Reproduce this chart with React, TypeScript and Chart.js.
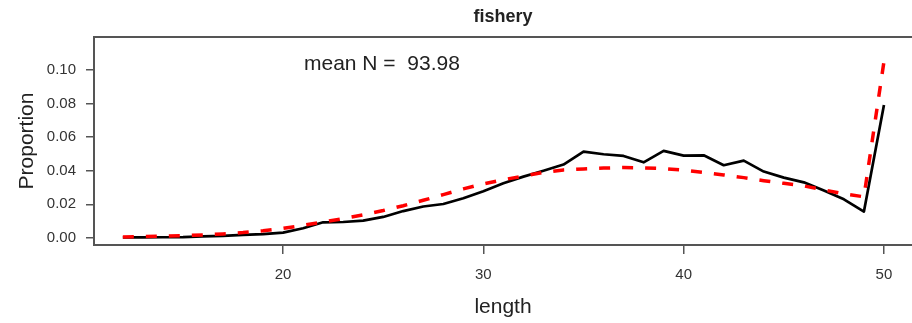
import React, { useEffect, useRef } from "react";
import { Chart, registerables } from "chart.js";

Chart.register(...registerables);

const lengths = [12, 13, 14, 15, 16, 17, 18, 19, 20, 21, 22, 23, 24, 25, 26, 27, 28, 29, 30, 31, 32, 33, 34, 35, 36, 37, 38, 39, 40, 41, 42, 43, 44, 45, 46, 47, 48, 49, 50];

const observed = [0.0003, 0.0003, 0.0004, 0.0005, 0.0009, 0.0012, 0.0018, 0.0023, 0.0032, 0.0058, 0.0093, 0.0095, 0.0103, 0.0125, 0.016, 0.0187, 0.0202, 0.0236, 0.0278, 0.0325, 0.0365, 0.04, 0.0437, 0.0514, 0.0498, 0.0488, 0.045, 0.0518, 0.049, 0.0492, 0.0433, 0.046, 0.0395, 0.0359, 0.0331, 0.0282, 0.023, 0.0157, 0.0792];

const expected = [0.0006, 0.0008, 0.0011, 0.0014, 0.0018, 0.0024, 0.0032, 0.0043, 0.0057, 0.0075, 0.0095, 0.0115, 0.0137, 0.0163, 0.0192, 0.0224, 0.0258, 0.0292, 0.0322, 0.0347, 0.0368, 0.039, 0.0405, 0.0411, 0.0416, 0.0419, 0.0417, 0.0413, 0.0403, 0.039, 0.0375, 0.0359, 0.0341, 0.0325, 0.031, 0.0286, 0.0262, 0.0245, 0.105];

const xTicks = [20, 30, 40, 50];
const yTicks = [0, 0.02, 0.04, 0.06, 0.08, 0.1];

const titleText = "fishery";
const annotationText = "mean N =  93.98";
const xTitle = "length";
const yTitle = "Proportion";

const FONT = "'Liberation Sans', Arial, sans-serif";

export default function App() {
  const ref = useRef<HTMLCanvasElement | null>(null);

  useEffect(() => {
    if (!ref.current) return;
    const frame = {
      id: "frame",
      afterDraw(chart: any) {
        const { ctx, chartArea } = chart;
        ctx.save();
        ctx.strokeStyle = "#555";
        ctx.lineWidth = 2;
        ctx.beginPath();
        ctx.moveTo(chartArea.left, chartArea.bottom);
        ctx.lineTo(chartArea.left, chartArea.top);
        ctx.lineTo(chartArea.right + 2, chartArea.top);
        ctx.stroke();
        ctx.fillStyle = "#222";
        ctx.font = `bold 18px ${FONT}`;
        ctx.textAlign = "center";
        ctx.textBaseline = "middle";
        ctx.fillText(titleText, (chartArea.left + chartArea.right) / 2, 17);
        ctx.font = `21px ${FONT}`;
        ctx.textAlign = "left";
        ctx.fillText(annotationText, chartArea.left + 210, chartArea.top + 27);
        ctx.restore();
      },
    };
    const chart = new Chart(ref.current, {
      type: "line",
      data: {
        datasets: [
          {
            label: "expected",
            data: lengths.map((x, i) => ({ x, y: expected[i] })),
            borderColor: "#ff0000",
            borderWidth: 3.5,
            borderDash: [11, 12],
            borderCapStyle: "butt",
            pointRadius: 0,
            tension: 0,
            fill: false,
          },
          {
            label: "observed",
            data: lengths.map((x, i) => ({ x, y: observed[i] })),
            borderColor: "#000000",
            borderWidth: 2.7,
            borderJoinStyle: "round",
            pointRadius: 0,
            tension: 0,
            fill: false,
          },
        ],
      },
      options: {
        responsive: false,
        animation: false,
        layout: { padding: { top: 37, left: 0, right: 0, bottom: 0 } },
        plugins: { legend: { display: false }, tooltip: { enabled: false }, title: { display: false } },
        scales: {
          x: {
            type: "linear",
            min: 10.56,
            max: 51.4,
            afterBuildTicks: (s: any) => {
              s.ticks = xTicks.map((v) => ({ value: v }));
            },
            afterFit: (s: any) => {
              s.height = 78;
            },
            grid: { drawOnChartArea: false, drawTicks: true, tickLength: 9, color: "#555", lineWidth: 1.5 },
            border: { display: true, color: "#555", width: 2 },
            ticks: {
              autoSkip: false,
              maxRotation: 0,
              padding: 12,
              color: "#333",
              font: { family: FONT, size: 15 },
              callback: (v: any) => String(v),
            },
            title: {
              display: true,
              text: xTitle,
              color: "#222",
              font: { family: FONT, size: 21 },
              padding: { top: 0, bottom: 3 },
            },
          },
          y: {
            type: "linear",
            min: -0.0042,
            max: 0.1196,
            afterBuildTicks: (s: any) => {
              s.ticks = yTicks.map((v) => ({ value: v }));
            },
            afterFit: (s: any) => {
              s.width = 94;
            },
            grid: { drawOnChartArea: false, drawTicks: true, tickLength: 8, color: "#555", lineWidth: 1.5 },
            border: { display: true, color: "#555", width: 2 },
            ticks: {
              autoSkip: false,
              padding: 10,
              color: "#333",
              font: { family: FONT, size: 15 },
              callback: (v: any) => Number(v).toFixed(2),
            },
            title: {
              display: true,
              text: yTitle,
              color: "#222",
              font: { family: FONT, size: 21 },
              padding: { top: 15, bottom: 0 },
            },
          },
        },
      },
      plugins: [frame],
    } as any);
    return () => chart.destroy();
  }, []);

  return (
    <div style={{ position: "fixed", left: 0, top: 0, width: 912, height: 323, background: "#fff" }}>
      <canvas ref={ref} width={912} height={323} style={{ display: "block" }} />
    </div>
  );
}
